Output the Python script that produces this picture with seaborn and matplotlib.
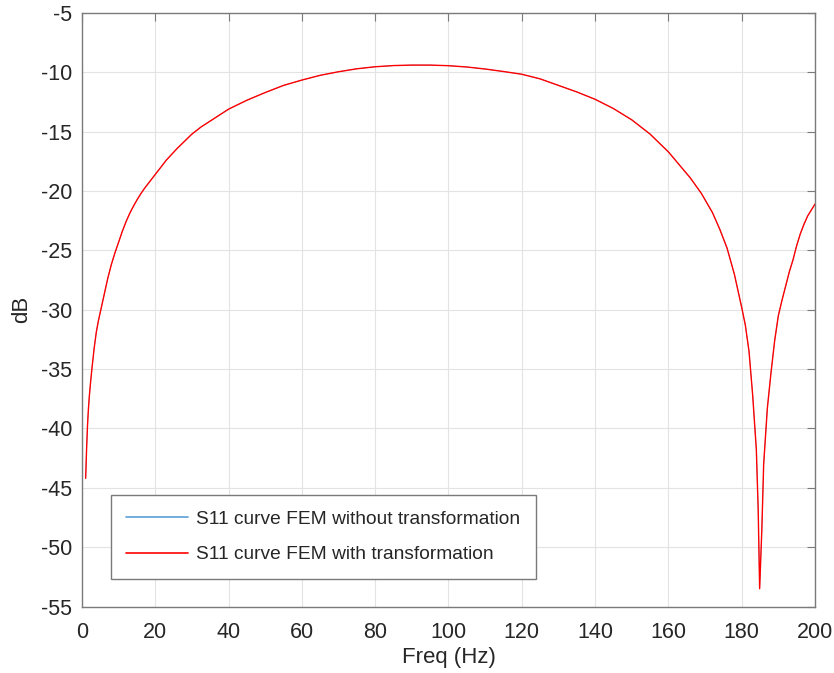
import matplotlib
matplotlib.use("Agg")
import matplotlib.pyplot as plt
import seaborn as sns
import pandas as pd

freq_hz = [1, 1.25, 1.5, 1.75, 2, 2.35, 2.7, 3.3, 3.9, 4.5, 5, 5.5, 6, 6.5, 7, 7.5, 8, 9,
           10, 11, 12, 13, 14, 15, 16, 17, 18, 19, 20, 21.5, 23, 24.5, 26, 28, 30, 32.5,
           35, 37.5, 40, 45, 50, 55, 60, 65, 70, 75, 80, 85, 90, 95, 100, 105, 110, 115,
           120, 125, 130, 135, 140, 145, 150, 155, 160, 163, 166, 169, 172, 174, 176,
           178, 180, 181, 182, 183, 184, 184.5, 184.9, 185.5, 186, 187, 188, 189, 190,
           191, 192, 193, 194, 195, 196, 197, 198, 199, 200]
s11_with_db = [-44.2, -41.8, -39.8, -38.4, -37.3, -36.1, -35.0, -33.3, -31.9, -30.9,
               -30.2, -29.5, -28.8, -28.1, -27.4, -26.8, -26.2, -25.2, -24.3, -23.4,
               -22.6, -21.9, -21.3, -20.75, -20.25, -19.8, -19.4, -19.0, -18.6, -18.0,
               -17.4, -16.9, -16.4, -15.8, -15.2, -14.6, -14.1, -13.6, -13.1, -12.35,
               -11.7, -11.1, -10.65, -10.25, -9.95, -9.7, -9.53, -9.43, -9.39, -9.39,
               -9.44, -9.55, -9.72, -9.93, -10.16, -10.55, -11.1, -11.65, -12.27,
               -13.05, -14.0, -15.2, -16.7, -17.8, -18.9, -20.2, -21.8, -23.2, -24.8,
               -27.0, -29.8, -31.3, -33.5, -37.2, -41.8, -46.8, -53.5, -48.5, -43.0,
               -38.3, -35.3, -32.6, -30.5, -29.2, -28.0, -26.8, -25.8, -24.6, -23.6,
               -22.8, -22.1, -21.6, -21.1]
s11_without_db = list(s11_with_db)

labels = ["S11 curve FEM without transformation", "S11 curve FEM with transformation"]
colors = ["#5aa0d8", "#ff0000"]
x_ticks = [0, 20, 40, 60, 80, 100, 120, 140, 160, 180, 200]
y_ticks = [-55, -50, -45, -40, -35, -30, -25, -20, -15, -10, -5]

df = pd.concat([
    pd.DataFrame({"Freq": freq_hz, "dB": s11_without_db, "series": labels[0]}),
    pd.DataFrame({"Freq": freq_hz, "dB": s11_with_db, "series": labels[1]}),
])

sns.set_style("white")
plt.rcParams["font.family"] = ["Liberation Sans", "DejaVu Sans"]
plt.rcParams["axes.unicode_minus"] = False

fig = plt.figure(figsize=(8.34, 6.73), dpi=100)
ax = fig.add_axes([0.0983, 0.0988, 0.8789, 0.8819])

sns.lineplot(data=df, x="Freq", y="dB", hue="series", palette=colors,
             hue_order=labels, linewidth=0.9, ax=ax, sort=False, estimator=None)
ax.lines[0].set_linewidth(0.5)
ax.lines[1].set_linewidth(1.0)

ax.set_xlim(0, 200)
ax.set_ylim(-55, -5)
ax.set_xticks(x_ticks)
ax.set_yticks(y_ticks)
ax.tick_params(axis="both", which="both", direction="in", length=6, width=0.8,
               color="#7a7a7a", labelsize=15.5, labelcolor="#262626",
               top=True, right=True)
ax.tick_params(axis="x", pad=11)
ax.tick_params(axis="y", pad=7)
for sp in ax.spines.values():
    sp.set_visible(True)
    sp.set_color("#7a7a7a")
    sp.set_linewidth(1.0)
ax.grid(True, color="#e3e3e3", linewidth=0.8)
ax.set_axisbelow(True)
ax.set_xlabel("Freq (Hz)", fontsize=16, color="#262626", labelpad=3)
ax.set_ylabel("dB", fontsize=16, color="#262626", labelpad=6)

leg = ax.legend(loc="lower left", bbox_to_anchor=(0.039, 0.046), fontsize=13.8,
                fancybox=False, framealpha=1, edgecolor="#7a7a7a",
                handlelength=3.2, labelspacing=0.95, borderpad=0.82,
                handletextpad=0.45, borderaxespad=0)
leg.get_frame().set_linewidth(1.0)
for h in leg.get_lines():
    h.set_linewidth(1.2)

fig.savefig("out.png", dpi=100)
